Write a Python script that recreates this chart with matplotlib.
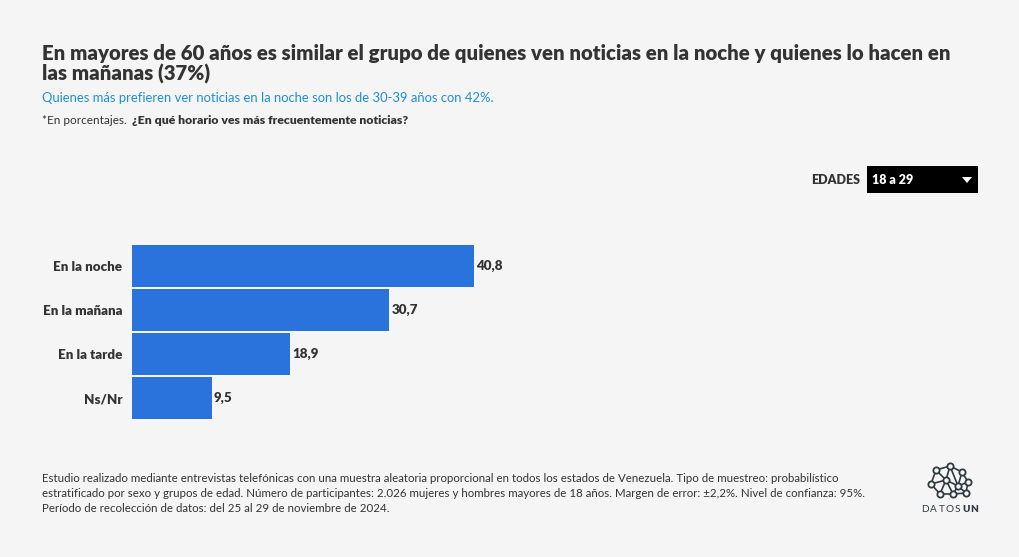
import matplotlib.pyplot as plt
from matplotlib.patches import Rectangle, Polygon

# datos
categorias = ['En la noche', 'En la mañana', 'En la tarde', 'Ns/Nr']
valores = [40.8, 30.7, 18.9, 9.5]
etiquetas = ['40,8', '30,7', '18,9', '9,5']

titulo = ('En mayores de 60 años es similar el grupo de quienes ven noticias en la noche y quienes lo hacen en\n'
          'las mañanas (37%)')
subtitulo = 'Quienes más prefieren ver noticias en la noche son los de 30-39 años con 42%.'
nota = ('Estudio realizado mediante entrevistas telefónicas con una muestra aleatoria proporcional en todos los estados de Venezuela. Tipo de muestreo: probabilístico\n'
        'estratificado por sexo y grupos de edad. Número de participantes: 2.026 mujeres y hombres mayores de 18 años. Margen de error: ±2,2%. Nivel de confianza: 95%.\n'
        'Período de recolección de datos: del 25 al 29 de noviembre de 2024.')

plt.rcParams['font.family'] = ['Lato', 'DejaVu Sans']
BG = '#f5f5f5'
W, H = 1020, 557
fig = plt.figure(figsize=(W / 100, H / 100), dpi=100, facecolor=BG)

def px(x, y):
    return x / W, 1 - y / H

# textos de cabecera
fig.text(*px(42, 44), titulo, fontsize=14.7, fontweight='heavy', color='#333333',
         va='top', linespacing=1.05)
fig.text(*px(42, 98), subtitulo, fontsize=9.4, color='#1d8fd1', va='center')
fig.text(*px(42, 121), '*En porcentajes. ', fontsize=8.5, color='#333333', va='center')
fig.text(*px(132, 121), '¿En qué horario ves más frecuentemente noticias?', fontsize=8.8,
         fontweight='heavy', color='#333333', va='center')

# selector de edades
fig.text(*px(860, 180), 'EDADES', fontsize=9, fontweight='heavy', color='#333333',
         ha='right', va='center')
fig.patches.append(Rectangle(px(867, 193), 111 / W, 27 / H, transform=fig.transFigure,
                             facecolor='black', edgecolor='none'))
fig.text(*px(872, 180), '18 a 29', fontsize=9, fontweight='heavy', color='white', va='center')
fig.patches.append(Polygon([px(962, 177), px(972, 177), px(967, 183)], closed=True,
                           transform=fig.transFigure, facecolor='white', edgecolor='none'))

# barras
ax = fig.add_axes([132 / W, 1 - 420 / H, 838 / W, 176 / H])
ax.set_facecolor('none')
y = list(range(len(categorias)))
ax.barh(y, valores, height=0.955, color='#2a73dc')
for yi, v, t in zip(y, valores, etiquetas):
    ax.text(v + 0.25, yi, t, fontsize=9.6, fontweight='heavy', color='#333333', va='center')
ax.set_xlim(0, 100)
ax.set_ylim(3.5, -0.5)
ax.set_yticks(y)
ax.set_yticklabels(categorias, fontsize=9.6, fontweight='heavy', color='#333333')
ax.tick_params(axis='y', length=0, pad=7)
ax.set_xticks([])
for s in ax.spines.values():
    s.set_visible(False)

# nota al pie
fig.text(*px(42, 473), nota, fontsize=8.25, color='#333333', va='top', linespacing=1.45)

# logo
nodos = [(936, 470), (950, 466), (962, 472), (931, 484), (946, 480), (958, 486),
         (968, 482), (940, 494), (953, 494), (966, 493)]
enlaces = [(0, 1), (1, 2), (0, 3), (0, 4), (1, 4), (2, 5), (2, 6), (3, 4), (4, 5),
           (5, 6), (3, 7), (4, 7), (4, 8), (5, 8), (5, 9), (6, 9), (7, 8), (8, 9), (1, 5)]
for a, b in enlaces:
    xa, ya = px(*nodos[a])
    xb, yb = px(*nodos[b])
    fig.add_artist(plt.Line2D([xa, xb], [ya, yb], transform=fig.transFigure,
                              color='#2f3b3f', lw=1.2))
for n in nodos:
    xn, yn = px(*n)
    fig.add_artist(plt.Line2D([xn], [yn], transform=fig.transFigure, marker='o',
                              markersize=4.5, markerfacecolor=BG, markeredgecolor='#2f3b3f',
                              markeredgewidth=1.3))
letras = ['D', 'A', 'T', 'O', 'S', 'U', 'N']
for i, letra in enumerate(letras):
    fig.text(*px(925 + i * 8.2, 509), letra, fontsize=7.2, ha='center', va='center',
             color='#2f3b3f', fontweight='heavy' if i >= 5 else 'normal')

fig.savefig('out.png', dpi=100, facecolor=BG)
